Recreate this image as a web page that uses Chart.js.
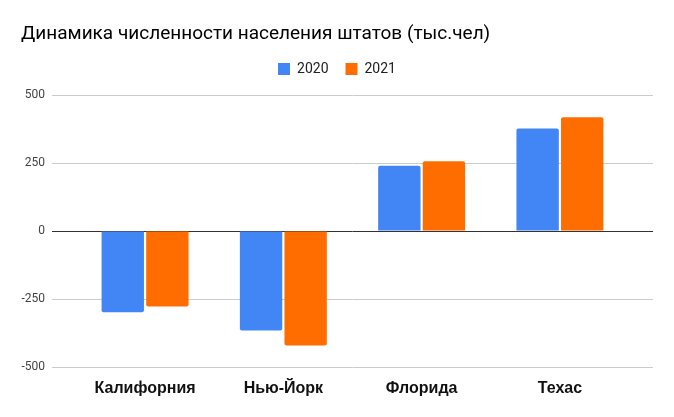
<!DOCTYPE html>
<html>
<head>
<meta charset="utf-8">
<script src="https://cdn.jsdelivr.net/npm/chart.js@4/dist/chart.umd.min.js"></script>
<style>
  html, body { margin: 0; padding: 0; background: #fff; }
  #wrap { width: 674px; height: 417px; }
</style>
</head>
<body>
<div id="wrap"><canvas id="chart" width="674" height="417"></canvas></div>
<script>
// Chart data
const states = ['Калифорния', 'Нью-Йорк', 'Флорида', 'Техас'];
const values2020 = [-299, -366, 240, 377];
const values2021 = [-278, -421, 256, 418];
const yTicks = [-500, -250, 0, 250, 500];

// bars sit on a linear x scale so the gridlines can run past the outer groups
function toPoints(vals) {
    return vals.map(function(v, i) { return { x: i, y: v }; });
}

// a little extra room under the legend
const legendGap = {
    id: 'legendGap',
    beforeInit: function(chart) {
        const fit = chart.legend.fit;
        chart.legend.fit = function() {
            fit.bind(chart.legend)();
            this.height += 9;
        };
    }
};

new Chart(document.getElementById('chart').getContext('2d'), {
    type: 'bar',
    data: {
        datasets: [{
            label: '2020',
            data: toPoints(values2020),
            backgroundColor: '#4285F4',
            borderRadius: 2,
            categoryPercentage: 0.645,
            barPercentage: 0.95
        }, {
            label: '2021',
            data: toPoints(values2021),
            backgroundColor: '#FF6D01',
            borderRadius: 2,
            categoryPercentage: 0.645,
            barPercentage: 0.95
        }]
    },
    options: {
        responsive: false,
        animation: false,
        layout: { padding: { left: 21, right: 21, top: 0, bottom: 0 } },
        plugins: {
            title: {
                display: true,
                text: 'Динамика численности населения штатов (тыс.чел)',
                align: 'start',
                color: '#000',
                font: { family: 'Roboto', size: 19, weight: 'normal', lineHeight: 1 },
                padding: { top: 25, bottom: 1 }
            },
            legend: {
                position: 'top',
                labels: {
                    boxWidth: 12,
                    boxHeight: 12,
                    color: '#222',
                    padding: 17,
                    font: { family: 'Roboto', size: 14 }
                }
            },
            tooltip: { enabled: false }
        },
        scales: {
            x: {
                type: 'linear',
                offset: false,
                min: -0.673,
                max: 3.673,
                grid: { display: false },
                border: { display: false },
                afterBuildTicks: function(axis) {
                    axis.ticks = states.map(function(s, i) { return { value: i }; });
                },
                afterFit: function(axis) { axis.height = 50; },
                ticks: {
                    autoSkip: false,
                    maxRotation: 0,
                    padding: 4,
                    color: '#111',
                    font: { family: 'Liberation Sans', size: 16, weight: 'bold' },
                    callback: function(value) { return states[value]; }
                }
            },
            y: {
                min: -500,
                max: 500,
                afterBuildTicks: function(axis) {
                    axis.ticks = yTicks.map(function(v) { return { value: v }; });
                },
                afterFit: function(axis) { axis.width = 31; },
                border: { display: false },
                grid: {
                    drawTicks: false,
                    color: function(ctx) { return ctx.tick && ctx.tick.value === 0 ? '#333' : '#ccc'; },
                    lineWidth: 1
                },
                ticks: {
                    padding: 7,
                    color: '#444',
                    font: { family: 'Roboto', size: 12 }
                }
            }
        }
    },
    plugins: [legendGap]
});
</script>
</body>
</html>
